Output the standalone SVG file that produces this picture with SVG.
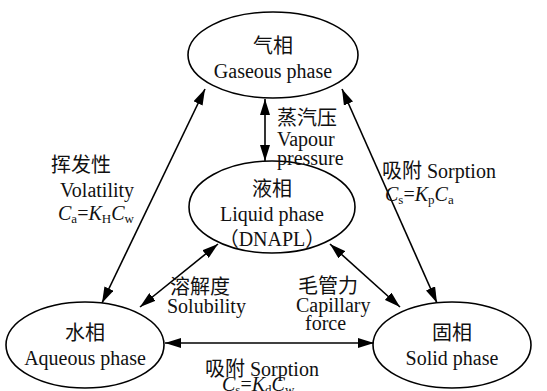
<svg xmlns="http://www.w3.org/2000/svg" width="547" height="391" viewBox="0 0 547 391">
<defs>
<style>
.node{fill:#fff;stroke:#000;stroke-width:1.6}
.t{font-family:"Liberation Serif","Noto Sans CJK SC",serif;font-size:20px;fill:#111}
.c{text-anchor:middle}
.i{font-style:italic}
.s{font-size:13px}
.edge{stroke:#000;stroke-width:1.6;fill:none;marker-start:url(#ah);marker-end:url(#ah)}
</style>
<marker id="ah" viewBox="0 0 16 10" refX="16" refY="5" markerWidth="16" markerHeight="10" markerUnits="userSpaceOnUse" orient="auto-start-reverse">
<path d="M0,0 L16,5 L0,10 Z" fill="#000"/>
</marker>
</defs>
<rect width="547" height="391" fill="#fff"/>
<g id="connectors">
<line class="edge" x1="265" y1="99" x2="265" y2="161"/>
<line class="edge" x1="102" y1="303" x2="205" y2="89"/>
<line class="edge" x1="342" y1="89" x2="437" y2="303"/>
<line class="edge" x1="218" y1="244" x2="140" y2="307"/>
<line class="edge" x1="330" y1="244" x2="400" y2="307"/>
<line class="edge" x1="165" y1="343" x2="374" y2="343"/>
</g>
<g id="gas">
<ellipse class="node" cx="273" cy="55" rx="85" ry="43"/>
<text class="t c" x="273" y="53">气相</text>
<text class="t c" x="273" y="78">Gaseous phase</text>
</g>
<g id="liquid">
<ellipse class="node" cx="272" cy="207" rx="83" ry="46"/>
<text class="t c" x="272" y="196">液相</text>
<text class="t c" x="272" y="221">Liquid phase</text>
<text class="t c" x="272" y="246">（DNAPL）</text>
</g>
<g id="aqueous">
<ellipse class="node" cx="85" cy="345" rx="79" ry="43"/>
<text class="t c" x="85" y="340">水相</text>
<text class="t c" x="85" y="365">Aqueous phase</text>
</g>
<g id="solid">
<ellipse class="node" cx="452" cy="345" rx="79" ry="43"/>
<text class="t c" x="452" y="340">固相</text>
<text class="t c" x="452" y="365">Solid phase</text>
</g>
<g id="labels">
<text class="t" x="51" y="172">挥发性</text>
<text class="t" x="60" y="197">Volatility</text>
<text class="t" x="58" y="220"><tspan class="i">C</tspan><tspan class="s" dy="3">a</tspan><tspan dy="-3">=</tspan><tspan class="i">K</tspan><tspan class="s" dy="3">H</tspan><tspan class="i" dy="-3">C</tspan><tspan class="s" dy="3">w</tspan></text>
<text class="t" x="277" y="125">蒸汽压</text>
<text class="t" x="277" y="146">Vapour</text>
<text class="t" x="277" y="165">pressure</text>
<text class="t" x="382" y="178">吸附 Sorption</text>
<text class="t" x="385" y="201"><tspan class="i">C</tspan><tspan class="s" dy="3">s</tspan><tspan dy="-3">=</tspan><tspan class="i">K</tspan><tspan class="s" dy="3">p</tspan><tspan class="i" dy="-3">C</tspan><tspan class="s" dy="3">a</tspan></text>
<text class="t" x="170" y="294">溶解度</text>
<text class="t" x="167" y="313">Solubility</text>
<text class="t" x="298" y="293">毛管力</text>
<text class="t" x="296" y="312">Capillary</text>
<text class="t" x="305" y="330">force</text>
<text class="t" x="205" y="376">吸附 Sorption</text>
<text class="t" x="222" y="391"><tspan class="i">C</tspan><tspan class="s" dy="3">s</tspan><tspan dy="-3">=</tspan><tspan class="i">K</tspan><tspan class="s" dy="3">d</tspan><tspan class="i" dy="-3">C</tspan><tspan class="s" dy="3">w</tspan></text>
</g>
</svg>
